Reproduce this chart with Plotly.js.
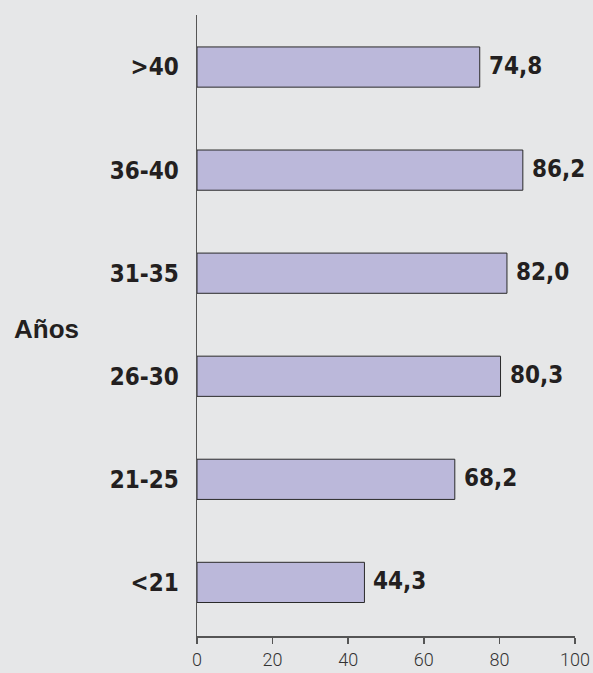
<!DOCTYPE html>
<html><head><meta charset="utf-8">
<script src="https://cdn.plot.ly/plotly-3.0.1.min.js"></script>
<style>html,body{margin:0;padding:0;background:#e6e7e8;}#chart{width:593px;height:673px;}</style>
</head><body><div id="chart"></div>
<script>
const categories = ['<21', '21-25', '26-30', '31-35', '36-40', '>40'];
const values = [44.3, 68.2, 80.3, 82.0, 86.2, 74.8];
const xTicks = [0, 20, 40, 60, 80, 100];
const axisTitle = 'Años';

const fmt = v => v.toFixed(1).replace('.', ',');
const narrow = 'Liberation Sans Narrow, DejaVu Sans Condensed, Arial Narrow, sans-serif';

const trace = {
  type: 'bar', orientation: 'h',
  y: categories, x: values,
  width: 0.39,
  marker: {color: '#bbb8da', line: {color: '#2a2a2a', width: 1}},
  hoverinfo: 'none'
};

const annotations = values.map((v, i) => ({
  x: v, y: categories[i], xref: 'x', yref: 'y',
  text: fmt(v), showarrow: false, xanchor: 'left', xshift: 7, yshift: 1,
  font: {family: narrow, size: 24, color: '#231f20', weight: 700}
}));
annotations.push({
  xref: 'paper', yref: 'paper', x: -0.49, y: 0.495, xanchor: 'left', yanchor: 'middle',
  text: axisTitle, showarrow: false,
  font: {family: 'Liberation Sans, Arial, sans-serif', size: 26, color: '#231f20', weight: 700}
});

const layout = {
  width: 593, height: 673,
  paper_bgcolor: '#e6e7e8', plot_bgcolor: '#e6e7e8',
  margin: {l: 197, r: 18, t: 15, b: 37},
  showlegend: false,
  xaxis: {
    range: [0, 100], tickvals: xTicks, ticktext: xTicks.map(String),
    showgrid: false, zeroline: false, showline: true, linecolor: '#555', linewidth: 1.5,
    ticks: 'outside', ticklen: 6, tickcolor: '#555', tickwidth: 1.5, ticklabelstandoff: 1,
    tickfont: {family: 'Roboto, Lato, sans-serif', size: 18, color: '#333', weight: 300},
    fixedrange: true
  },
  yaxis: {
    type: 'category', range: [-0.52, 5.505],
    showgrid: false, zeroline: false, showline: true, linecolor: '#555', linewidth: 1.5,
    ticks: '', ticklabelstandoff: 12,
    tickfont: {family: narrow, size: 24, color: '#231f20', weight: 700},
    fixedrange: true
  },
  annotations: annotations
};

Plotly.newPlot('chart', [trace], layout, {displayModeBar: false, staticPlot: true});
</script></body></html>
